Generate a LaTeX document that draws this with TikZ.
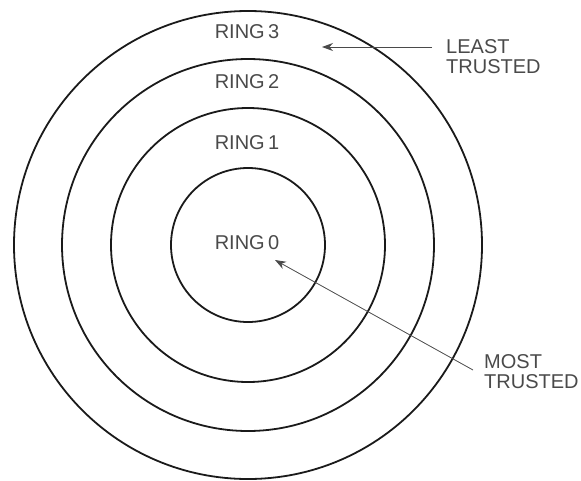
\documentclass[tikz,border=0pt]{standalone}
\usepackage{fontspec}
\setmainfont{Liberation Sans}
\usetikzlibrary{arrows.meta}
\definecolor{ink}{HTML}{1A1A1A}
\definecolor{pencil}{HTML}{4A4A4A}
\tikzset{
  ring/.style={draw=ink, line width=1.8pt},
  ringlbl/.style={font=\fontsize{20}{22}\selectfont, text=pencil, inner sep=0pt},
  note/.style={font=\fontsize{20}{20.5}\selectfont, text=pencil, align=left, inner sep=0pt, anchor=north west},
  pointer/.style={-{Stealth[length=11pt, width=8pt]}, draw=pencil, line width=0.8pt}
}

\begin{document}
\begin{tikzpicture}[x=1pt, y=-1pt]
  \useasboundingbox (0,0) rectangle (581,480);
  \coordinate (ctr) at (248,245);

  % the four protection rings
  \foreach \r in {77, 137, 186, 234}
    \draw[ring] (ctr) circle[radius=\r pt];

  \foreach \n/\y in {3/32, 2/82, 1/143, 0/243}
    \node[ringlbl] (ring\n) at (247,\y) {RING\,\n};

  % trust notes
  \node[note] (least) at (446,39) {LEAST\\TRUSTED};
  \node[note] (most) at (484,354) {MOST\\TRUSTED};

  \coordinate (leastfrom) at (432,47);
  \coordinate (leasttip) at (322,47);
  \coordinate (mostfrom) at (473,370);
  \coordinate (mosttip) at (275,260);
  \draw[pointer] (leastfrom) -- (leasttip);
  \draw[pointer] (mostfrom) -- (mosttip);
\end{tikzpicture}
\end{document}
